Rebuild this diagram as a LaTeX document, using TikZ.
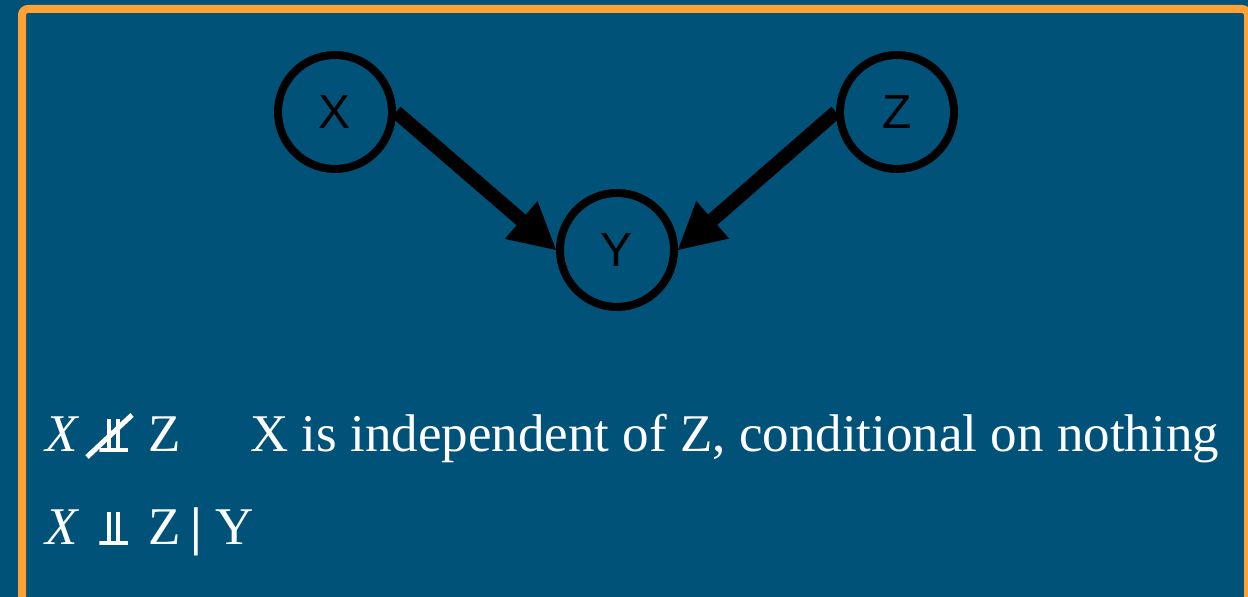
\documentclass[tikz,border=0pt]{standalone}
\usepackage{fontspec}
\setmainfont{Liberation Serif}
\newfontfamily\labelfont{Liberation Sans}
\usetikzlibrary{arrows.meta,calc}
\definecolor{slideblue}{RGB}{0,82,121}
\definecolor{frameorange}{RGB}{255,161,51}

\begin{document}
\begin{tikzpicture}[x=0.5pt, y=-0.5pt,
      var/.style={circle, draw=black, line width=4pt, minimum size=57pt, inner sep=0pt,
                  font=\labelfont\fontsize{24}{24}\selectfont},
      edge/.style={line width=7pt, -{Triangle[length=23pt, width=25pt, line width=0pt]}},
      txt/.style={anchor=base west, inner sep=0pt, text=white, font=\fontsize{26.5}{26.5}\selectfont},
      % double up tack, drawn: no installed family has the glyph
      indep/.style={anchor=south west, inner sep=0pt, minimum width=14.5pt, minimum height=16.5pt,
        path picture={
          \fill[white] (path picture bounding box.south west) rectangle +(14.5pt,1.75pt);
          \fill[white] ($(path picture bounding box.south west)+(4pt,0pt)$) rectangle +(2pt,16.5pt);
          \fill[white] ($(path picture bounding box.south west)+(8.5pt,0pt)$) rectangle +(2pt,16.5pt);
        }}]
      \useasboundingbox (0,0) rectangle (1248,597);
      \clip (0,0) rectangle (1248,597);
      \fill[slideblue] (0,0) rectangle (1248,597);
      \draw[frameorange, line width=4pt, rounded corners=3pt] (22,9) rectangle (1248,620);
      % graph
      \node[var] (X) at (335,112) {X};
      \node[var] (Z) at (897,112) {Z};
      \node[var] (Y) at (617,250) {Y};
      \draw[edge] (X.east) -- (Y.west);
      \draw[edge] (Z.west) -- (Y.east);
      % statements
      \node[txt]   (xa)   at (45,452)  {\textit{X}};
      \node[indep] (inda) at (99,452)  {};
      \node[txt]   (za)   at (148,452) {Z};
      \node[txt]   (desc) at (250,452) {X is independent of Z, conditional on nothing};
      \draw[white, line width=2.5pt] ($(inda.south west)+(-12,5)$) -- ($(inda.south west)+(33,-37)$);
      \node[txt]   (xb)   at (45,545)  {\textit{X}};
      \node[indep] (indb) at (99,545)  {};
      \node[txt]   (zb)   at (148,545) {Z};
      \node[txt]   (bar)  at (190,545) {\textbf{|}};
      \node[txt]   (yb)   at (215,545) {Y};
\end{tikzpicture}
\end{document}
